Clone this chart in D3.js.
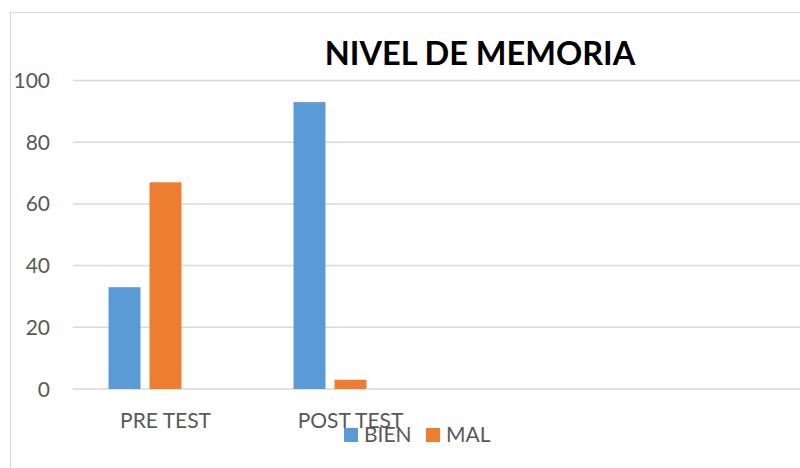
<!DOCTYPE html>
<html><head><meta charset="utf-8">
<script src="https://cdn.jsdelivr.net/npm/d3@7"></script>
<style>body{margin:0;background:#fff;}svg{display:block;}</style>
</head><body>
<script>
const categories = ["PRE TEST", "POST TEST"];
const seriesNames = ["BIEN", "MAL"];
const bien = [33, 93];
const mal = [67, 3];
const yTicks = [0, 20, 40, 60, 80, 100];
const colors = ["#5b9bd5", "#ed7d31"];
const title = "NIVEL DE MEMORIA";

const W = 800, H = 468;
const svg = d3.select("body").append("svg").attr("width", W).attr("height", H);
const font = "Lato, 'Open Sans', sans-serif";

svg.append("rect").attr("x", 10.5).attr("y", 12.5).attr("width", W).attr("height", H)
  .attr("fill", "#fff").attr("stroke", "#d9d9d9").attr("stroke-width", 1.2);

const y = d3.scaleLinear().domain([0, 100]).range([389, 80.5]);
const x = d3.scaleBand().domain(categories).range([73, 73 + 185 * 2])
  .paddingInner(0.384).paddingOuter(0.192);
const xs = d3.scaleBand().domain([0, 1, 2]).range([0, x.bandwidth()]).paddingInner(0.22).paddingOuter(0);

// gridlines
svg.append("g").selectAll("line").data(yTicks).join("line")
  .attr("x1", 73).attr("x2", W).attr("y1", d => y(d)).attr("y2", d => y(d))
  .attr("stroke", "#d9d9d9").attr("stroke-width", 1.5);

// y labels
svg.append("g").selectAll("text").data(yTicks).join("text")
  .attr("x", 50).attr("y", d => y(d)).attr("dy", "0.36em").attr("text-anchor", "end")
  .attr("font-family", font).attr("font-size", 21).attr("fill", "#595959").text(d => d);

const seriesData = [bien, mal];
seriesData.forEach((vals, si) => {
  svg.append("g").selectAll("rect").data(categories).join("rect")
    .attr("x", (c) => x(c) + xs(si)).attr("width", xs.bandwidth())
    .attr("y", (c, i) => y(vals[i])).attr("height", (c, i) => y(0) - y(vals[i]))
    .attr("fill", colors[si]);
});

// category labels
svg.append("g").selectAll("text").data(categories).join("text")
  .attr("x", c => x(c) + x.bandwidth() / 2).attr("y", 428).attr("text-anchor", "middle")
  .attr("font-family", font).attr("font-size", 21).attr("fill", "#595959").text(c => c);

// title
svg.append("text").attr("x", 480).attr("y", 65).attr("text-anchor", "middle")
  .attr("font-family", font).attr("font-weight", "bold").attr("font-size", 32.5)
  .attr("fill", "#000").text(title);

// legend
const legX = [344, 426];
const lg = svg.append("g").selectAll("g").data(seriesNames).join("g")
  .attr("transform", (d, i) => `translate(${legX[i]},428)`);
lg.append("rect").attr("width", 14).attr("height", 14).attr("fill", (d, i) => colors[i]);
lg.append("text").attr("x", 20).attr("y", 14).attr("font-family", font).attr("font-size", 21)
  .attr("fill", "#595959").text(d => d);
</script>
</body></html>
